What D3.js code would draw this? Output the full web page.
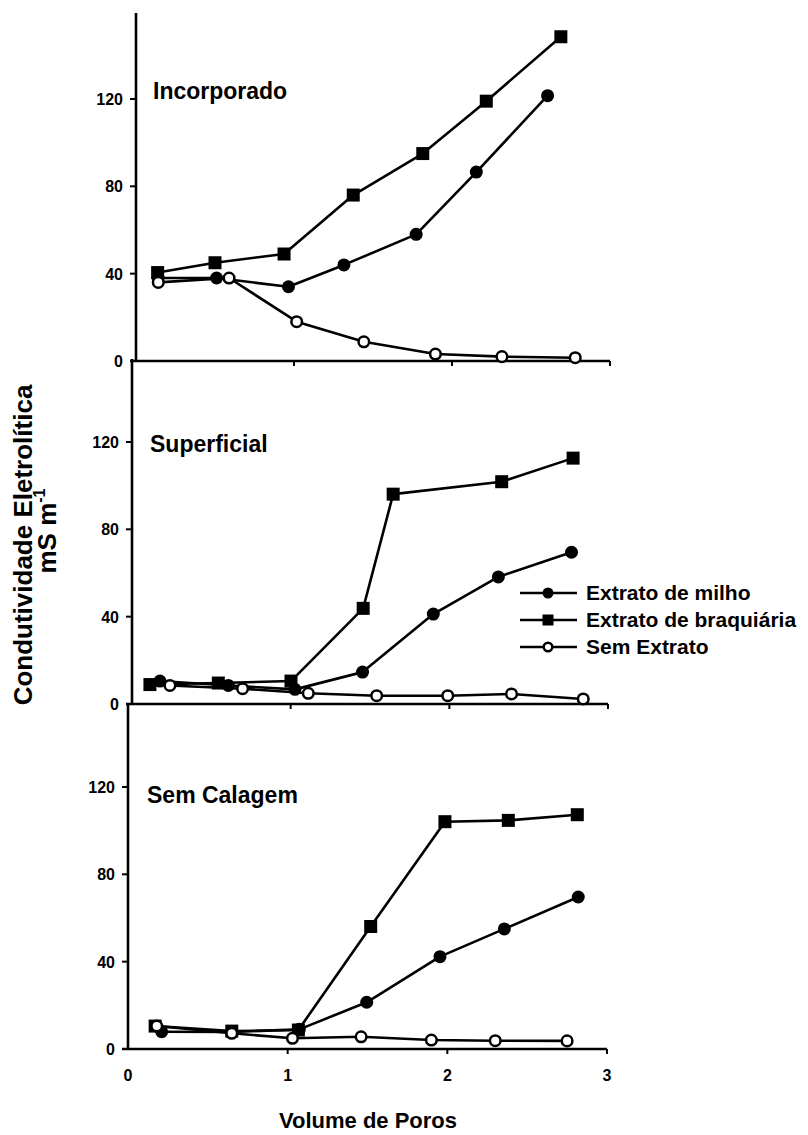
<!DOCTYPE html>
<html>
<head>
<meta charset="utf-8">
<script src="https://cdn.jsdelivr.net/npm/d3@7"></script>
<style>
  html, body { margin: 0; padding: 0; background: #fff; }
  svg { display: block; }
  text { font-family: "Liberation Sans", Arial, Helvetica, sans-serif; fill: #000; }
</style>
</head>
<body>
<svg id="chart" width="808" height="1135"></svg>
<script>
// ---- Data ----
const panels = ["Incorporado", "Superficial", "Sem Calagem"];
const seriesNames = ["Extrato de milho", "Extrato de braquiária", "Sem Extrato"];
const yTicks = [0, 40, 80, 120];
const xTicks = [0, 1, 2, 3];

// Incorporado
const incMilhoX = [0.14, 0.51, 0.965, 1.316, 1.773, 2.154, 2.605];
const incMilhoY = [38, 38, 34, 44, 58, 86.5, 121.5];
const incBraqX  = [0.137, 0.50, 0.937, 1.375, 1.815, 2.217, 2.689];
const incBraqY  = [40.5, 45, 49, 76, 95, 119, 148.5];
const incSemX   = [0.141, 0.589, 1.017, 1.442, 1.895, 2.316, 2.78];
const incSemY   = [36, 38, 18, 8.8, 3.2, 2, 1.5];

// Superficial
const supMilhoX = [0.176, 0.607, 1.027, 1.453, 1.899, 2.309, 2.77];
const supMilhoY = [10.5, 8.5, 6.7, 14.6, 41.2, 58.2, 69.5];
const supBraqX  = [0.113, 0.544, 1.002, 1.457, 1.646, 2.33, 2.78];
const supBraqY  = [8.9, 9.6, 10.5, 43.8, 96.1, 101.8, 112.6];
const supSemX   = [0.239, 0.697, 1.111, 1.542, 1.99, 2.392, 2.844];
const supSemY   = [8.5, 7, 4.9, 3.8, 3.8, 4.6, 2.3];

// Sem Calagem
const scMilhoX = [0.211, 0.65, 1.073, 1.495, 1.954, 2.357, 2.82];
const scMilhoY = [7.9, 7.8, 9, 21.4, 42.3, 55, 69.6];
const scBraqX  = [0.17, 0.65, 1.067, 1.52, 1.985, 2.382, 2.814];
const scBraqY  = [10.5, 8.2, 8.7, 56.1, 104.1, 104.7, 107.3];
const scSemX   = [0.18, 0.65, 1.03, 1.46, 1.90, 2.30, 2.75];
const scSemY   = [10.5, 7.2, 4.9, 5.6, 4.1, 3.8, 3.7];

const panelData = [
  [[incMilhoX, incMilhoY], [incBraqX, incBraqY], [incSemX, incSemY]],
  [[supMilhoX, supMilhoY], [supBraqX, supBraqY], [supSemX, supSemY]],
  [[scMilhoX, scMilhoY], [scBraqX, scBraqY], [scSemX, scSemY]]
];

// ---- Layout ----
const svg = d3.select("#chart");
const zeroY = [361, 704, 1049];
const panelH = 345;
const xLeft = [136, 132, 128];
const xRight = [610, 608, 607];
const titlePos = [[153, 99], [150, 452], [147, 803]];
const yMax = 158;
const markerKind = ["circle", "square", "open"];

panels.forEach((name, p) => {
  const x = d3.scaleLinear().domain([0, 3]).range([xLeft[p], xRight[p]]);
  const y = d3.scaleLinear().domain([0, yMax]).range([zeroY[p], zeroY[p] - panelH]);
  const g = svg.append("g");

  // y axis line
  g.append("line")
    .attr("x1", x(0)).attr("x2", x(0))
    .attr("y1", p === 0 ? 13 : y(yMax)).attr("y2", zeroY[p] + (p === 2 ? 1 : 0))
    .attr("stroke", "#000").attr("stroke-width", 2.6);

  // x axis line
  g.append("line")
    .attr("x1", x(0) - 6).attr("x2", x(3))
    .attr("y1", y(0)).attr("y2", y(0))
    .attr("stroke", "#000").attr("stroke-width", 2.6);

  // y ticks
  yTicks.forEach(t => {
    g.append("line")
      .attr("x1", x(0) - 6).attr("x2", x(0))
      .attr("y1", y(t)).attr("y2", y(t))
      .attr("stroke", "#000").attr("stroke-width", 2);
    g.append("text")
      .attr("x", x(0) - 13).attr("y", y(t) + 6)
      .attr("text-anchor", "end")
      .attr("font-size", 16).attr("font-weight", "bold")
      .text(t);
  });

  // x ticks
  xTicks.slice(1).forEach(t => {
    g.append("line")
      .attr("x1", x(t)).attr("x2", x(t))
      .attr("y1", y(0)).attr("y2", y(0) + 5)
      .attr("stroke", "#000").attr("stroke-width", 2);
  });
  if (p === 2) {
    xTicks.forEach(t => {
      g.append("text")
        .attr("x", x(t)).attr("y", 1081)
        .attr("text-anchor", "middle")
        .attr("font-size", 16).attr("font-weight", "bold")
        .text(t);
    });
  }

  // title
  g.append("text")
    .attr("x", titlePos[p][0]).attr("y", titlePos[p][1])
    .attr("font-size", 23).attr("font-weight", "bold")
    .text(name);

  const line = d3.line().x(d => x(d[0])).y(d => y(d[1]));

  // lines
  panelData[p].forEach(([xs, ys]) => {
    const pts = xs.map((v, i) => [v, ys[i]]);
    g.append("path").datum(pts)
      .attr("d", line)
      .attr("fill", "none").attr("stroke", "#000").attr("stroke-width", 2.6)
      .attr("stroke-linejoin", "round");
  });

  // markers: squares, then filled circles, then open circles on top
  [1, 0, 2].forEach(s => {
    const [xs, ys] = panelData[p][s];
    const pts = xs.map((v, i) => [v, ys[i]]);
    drawMarkers(g, pts.map(d => [x(d[0]), y(d[1])]), markerKind[s], 6.5);
  });
});

function drawMarkers(g, pts, kind, r) {
  if (kind === "square") {
    g.selectAll(null).data(pts).enter().append("rect")
      .attr("x", d => d[0] - r).attr("y", d => d[1] - r)
      .attr("width", 2 * r).attr("height", 2 * r)
      .attr("fill", "#000");
  } else if (kind === "circle") {
    g.selectAll(null).data(pts).enter().append("circle")
      .attr("cx", d => d[0]).attr("cy", d => d[1]).attr("r", r)
      .attr("fill", "#000");
  } else {
    g.selectAll(null).data(pts).enter().append("circle")
      .attr("cx", d => d[0]).attr("cy", d => d[1]).attr("r", r - 1.2)
      .attr("fill", "#fff").attr("stroke", "#000").attr("stroke-width", 2.5);
  }
}

// ---- Legend ----
const legendY = [593, 620, 647];
seriesNames.forEach((n, i) => {
  const lg = svg.append("g");
  lg.append("line").attr("x1", 520).attr("x2", 577)
    .attr("y1", legendY[i]).attr("y2", legendY[i])
    .attr("stroke", "#000").attr("stroke-width", 2.6);
  drawMarkers(lg, [[548, legendY[i]]], markerKind[i], 5.5);
  lg.append("text")
    .attr("x", 586).attr("y", legendY[i] + 7)
    .attr("font-size", 21).attr("font-weight", "bold")
    .text(n);
});

// ---- Axis titles ----
svg.append("text")
  .attr("transform", "translate(32,545) rotate(-90)")
  .attr("text-anchor", "middle")
  .attr("font-size", 26).attr("font-weight", "bold")
  .text("Condutividade Eletrolítica");

const unit = svg.append("text")
  .attr("transform", "translate(56,531) rotate(-90)")
  .attr("text-anchor", "middle")
  .attr("font-size", 26).attr("font-weight", "bold");
unit.append("tspan").text("mS m");
unit.append("tspan").attr("dy", -11).attr("font-size", 16).text("-1");

svg.append("text")
  .attr("x", 368).attr("y", 1128)
  .attr("text-anchor", "middle")
  .attr("font-size", 22).attr("font-weight", "bold")
  .text("Volume de Poros");
</script>
</body>
</html>
